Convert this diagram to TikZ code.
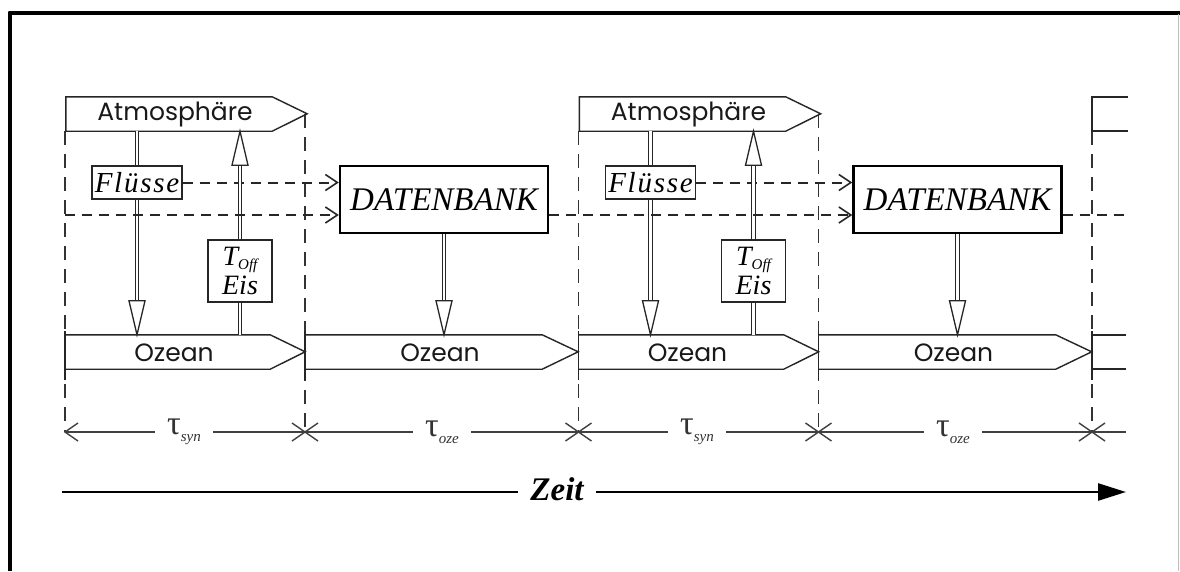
\documentclass[tikz,border=0pt]{standalone}
\usepackage{fontspec}
\setmainfont{Liberation Serif}
\newfontfamily\geofont{Poppins}
\newfontfamily\spacedit[LetterSpace=6]{Liberation Serif Italic}
\usetikzlibrary{calc,arrows.meta}
\begin{document}
\begin{tikzpicture}[x=1pt,y=-1pt,
  ln/.style={line width=1.4pt,draw=black!85},
  dsh/.style={line width=2pt,draw=black!85,dash pattern=on 10pt off 7pt},
  vdsh/.style={line width=1.3pt,draw=black!80,dash pattern=on 14pt off 9pt},
  dbl/.style={draw=black!85,line width=1.1pt,double=white,double distance=2.6pt},
  body/.style={inner sep=0pt,minimum height=34pt},
  geo/.style={inner sep=0pt,font=\geofont\fontsize{25}{25}\selectfont,text=black!90},
  boxit/.style={draw=black!85,line width=1.4pt,fill=white,inner sep=0pt,font=\itshape\fontsize{28}{28}\selectfont},
  dbox/.style={draw=black,line width=2.4pt,fill=white,minimum width=208pt,minimum height=67pt,inner sep=0pt,font=\itshape\fontsize{33}{33}\selectfont},
  opentip/.style={-{Straight Barb[length=12pt,width=16pt,line width=1.6pt]}},
  taulab/.style={fill=white,inner xsep=12pt,inner ysep=2pt,font=\fontsize{34}{34}\selectfont,text=black!80},
  headtri/.style={line width=1.3pt,draw=black!85,fill=white},
]
\useasboundingbox (0,0) rectangle (1180,571);
\fill[white] (0,0) rectangle (1180,571);
% frame
\draw[line width=4pt,line join=round] (9.5,571) -- (9.5,12.5) -- (1180,12.5);
\draw[line width=0.6pt,black!25] (1178,14) -- (1178,571);

\coordinate (s1) at (65,215);
\coordinate (e3) at (1126,215);

\foreach \p/\o in {1/0,2/513.5} {
\begin{scope}[xshift=\o pt]
  % dashed verticals
  \draw[vdsh] (65,131) -- (65,432);
  \draw[vdsh] (305,114) -- (305,432);
  % body nodes
  \node[body,minimum width=206pt] (atm\p) at (169,114) {};
  \node[body,minimum width=205pt] (oza\p) at (167.5,352) {};
  \node[body,minimum width=237pt] (ozb\p) at (423.5,352) {};
  % outlines
  \draw[ln] (atm\p.north west) -- (atm\p.north east) -- ++(35,17) -- (atm\p.south east) -- (atm\p.south west) -- cycle;
  \draw[ln] (oza\p.north west) -- (oza\p.north east) -- ++(35,17) -- (oza\p.south east) -- (oza\p.south west);
  \draw[ln] (ozb\p.north west) -- (ozb\p.north east) -- ++(36,17) -- (ozb\p.south east) -- (ozb\p.south west);
  \draw[ln] (65,331) -- (65,380);
  \draw[ln] (305,331) -- (305,380);
  % texts
  \node[geo] (atmT\p) at (175,114) {Atmosphäre};
  \node[geo] (ozaT\p) at (174,353) {Ozean};
  \node[geo] (ozbT\p) at (440,353) {Ozean};
  % boxes
  \node[boxit,minimum width=90pt,minimum height=33pt,font=\spacedit\fontsize{29}{29}\selectfont] (fl\p) at (137,182.5) {Flüsse};
  \node[boxit,minimum width=64pt,minimum height=62pt,align=center] (tb\p) at (240,271) {T\raisebox{-4pt}{\fontsize{15}{15}\selectfont Off}\\[1pt]Eis};
  \node[dbox] (db\p) at (444,199.5) {DATENBANK};
  % dashed flux arrow
  \draw[dsh,opentip] (fl\p.east) -- (fl\p.east -| db\p.west);
  % double arrows
  \draw[dbl] (atm\p.south -| fl\p) -- (fl\p.north);
  \draw[dbl] (fl\p.south) -- ($(oza\p.north -| fl\p)+(0,-32)$);
  \draw[headtri] (oza\p.north -| fl\p) -- ++(-8,-34) -- ++(16,0) -- cycle;
  \draw[dbl] (oza\p.north -| tb\p) -- (tb\p.south);
  \draw[dbl] (tb\p.north) -- ($(atm\p.south -| tb\p)+(0,32)$);
  \draw[headtri] (atm\p.south -| tb\p) -- ++(-8,34) -- ++(16,0) -- cycle;
  \draw[dbl] (db\p.south) -- ($(ozb\p.north -| db\p)+(0,-32)$);
  \draw[headtri] (ozb\p.north -| db\p) -- ++(-8,-34) -- ++(16,0) -- cycle;
\end{scope}
}
% second dashed line
\draw[dsh,opentip] (s1) -- (s1 -| db1.west);
\draw[dsh,opentip] (db1.east |- s1) -- (db2.west |- s1);
\draw[dsh] (db2.east |- s1) -- (e3);

% third (partial) period
\draw[vdsh] (1092,131) -- (1092,432);
\draw[ln] (1128,97) -- (1092,97) -- (1092,131) -- (1128,131);
\draw[ln] (1092,331) -- (1092,380);
\draw[ln] (1092,335) -- (1126,335);
\draw[ln] (1092,369) -- (1126,369);

% time intervals
\coordinate (t0) at (65,432);
\coordinate (t4) at (1126,432);
\draw[ln,black!75] (t0) -- (t4);
\draw[ln,black!75] (78,423) -- (t0) -- (78,441);
\foreach \x in {305,578.5,818.5,1092} {
  \draw[ln,black!75] (\x-13,423) -- (\x+13,441);
  \draw[ln,black!75] (\x-13,441) -- (\x+13,423);
}
\node[taulab] (ts1) at (184,432) {τ\raisebox{-7pt}{\fontsize{15}{15}\selectfont\itshape syn}};
\node[taulab] (to1) at (442,432) {τ\raisebox{-7pt}{\fontsize{15}{15}\selectfont\itshape oze}};
\node[taulab] (ts2) at (697,432) {τ\raisebox{-7pt}{\fontsize{15}{15}\selectfont\itshape syn}};
\node[taulab] (to2) at (953,432) {τ\raisebox{-7pt}{\fontsize{15}{15}\selectfont\itshape oze}};

% time axis
\coordinate (z0) at (62,492);
\coordinate (z1) at (1126,492);
\draw[line width=2.6pt,-{Triangle[length=28pt,width=17pt]}] (z0) -- (z1);
\node[fill=white,inner xsep=12pt,inner ysep=2pt,font=\bfseries\itshape\fontsize{33}{33}\selectfont] (zeit) at (557,489) {Zeit};
\end{tikzpicture}
\end{document}
